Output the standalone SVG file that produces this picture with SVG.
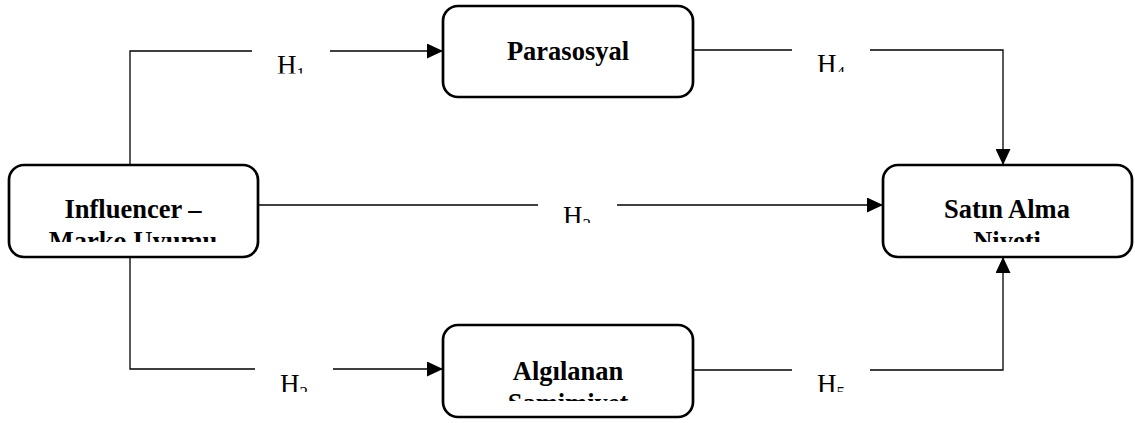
<svg xmlns="http://www.w3.org/2000/svg" width="1135" height="423" viewBox="0 0 1135 423">
<style>
.box{fill:#fff;stroke:#000;stroke-width:2.7}
.t{font-family:"Liberation Serif","Times New Roman",serif;font-weight:bold;font-size:26.5px;text-anchor:middle;fill:#000}
.h{font-family:"Liberation Serif","Times New Roman",serif;font-size:27px;fill:#000}
.s{font-size:17px}
.c{fill:none;stroke:#000;stroke-width:1.3}
</style>
<defs>
<marker id="a" viewBox="0 0 16 15" refX="16" refY="7.5" markerWidth="16" markerHeight="15" markerUnits="userSpaceOnUse" orient="auto">
<path d="M0,0 L16,7.5 L0,15 Z" fill="#000"/>
</marker>
<clipPath id="cInf"><rect x="0" y="150" width="270" height="92"/></clipPath>
<clipPath id="cSat"><rect x="870" y="150" width="265" height="92"/></clipPath>
<clipPath id="cAlg"><rect x="430" y="320" width="270" height="81"/></clipPath>
<clipPath id="cH1"><rect x="260" y="40" width="80" height="33.5"/></clipPath>
<clipPath id="cH4"><rect x="800" y="40" width="80" height="32"/></clipPath>
<clipPath id="cH3"><rect x="545" y="195" width="80" height="28"/></clipPath>
<clipPath id="cH2"><rect x="260" y="360" width="80" height="32"/></clipPath>
<clipPath id="cH5"><rect x="800" y="360" width="80" height="32"/></clipPath>
</defs>
<g id="connectors">
<path class="c" d="M130,164 V51 H252"/>
<path class="c" d="M330,51 H443" marker-end="url(#a)"/>
<path class="c" d="M693,50 H792"/>
<path class="c" d="M870,50 H1003 V165" marker-end="url(#a)"/>
<path class="c" d="M258,205 H538"/>
<path class="c" d="M617,205 H883" marker-end="url(#a)"/>
<path class="c" d="M130,257 V369 H255"/>
<path class="c" d="M333,369 H443" marker-end="url(#a)"/>
<path class="c" d="M693,370 H792"/>
<path class="c" d="M870,370 H1003 V257" marker-end="url(#a)"/>
<g clip-path="url(#cH1)"><text class="h" x="277" y="74">H<tspan class="s" dy="5">1</tspan></text></g>
<g clip-path="url(#cH4)"><text class="h" x="817" y="73">H<tspan class="s" dy="5">4</tspan></text></g>
<g clip-path="url(#cH3)"><text class="h" x="563" y="225">H<tspan class="s" dy="5">3</tspan></text></g>
<g clip-path="url(#cH2)"><text class="h" x="280" y="393">H<tspan class="s" dy="5">2</tspan></text></g>
<g clip-path="url(#cH5)"><text class="h" x="817" y="393">H<tspan class="s" dy="5">5</tspan></text></g>
</g>
<g id="influencer">
<rect class="box" x="9" y="165" width="249" height="92" rx="15"/>
<g clip-path="url(#cInf)">
<text class="t" x="133" y="218">Influencer –</text>
<text class="t" x="133" y="250">Marko Uyumu</text>
</g>
</g>
<g id="parasosyal">
<rect class="box" x="443" y="6" width="250" height="91" rx="15"/>
<text class="t" x="568" y="60">Parasosyal</text>
</g>
<g id="algilanan">
<rect class="box" x="443" y="325" width="250" height="92" rx="15"/>
<g clip-path="url(#cAlg)">
<text class="t" x="568" y="380">Algılanan</text>
<text class="t" x="568" y="412">Samimiyet</text>
</g>
</g>
<g id="satin">
<rect class="box" x="883" y="165" width="249" height="92" rx="15"/>
<g clip-path="url(#cSat)">
<text class="t" x="1007" y="218">Satın Alma</text>
<text class="t" x="1007" y="250">Niyeti</text>
</g>
</g>
</svg>
